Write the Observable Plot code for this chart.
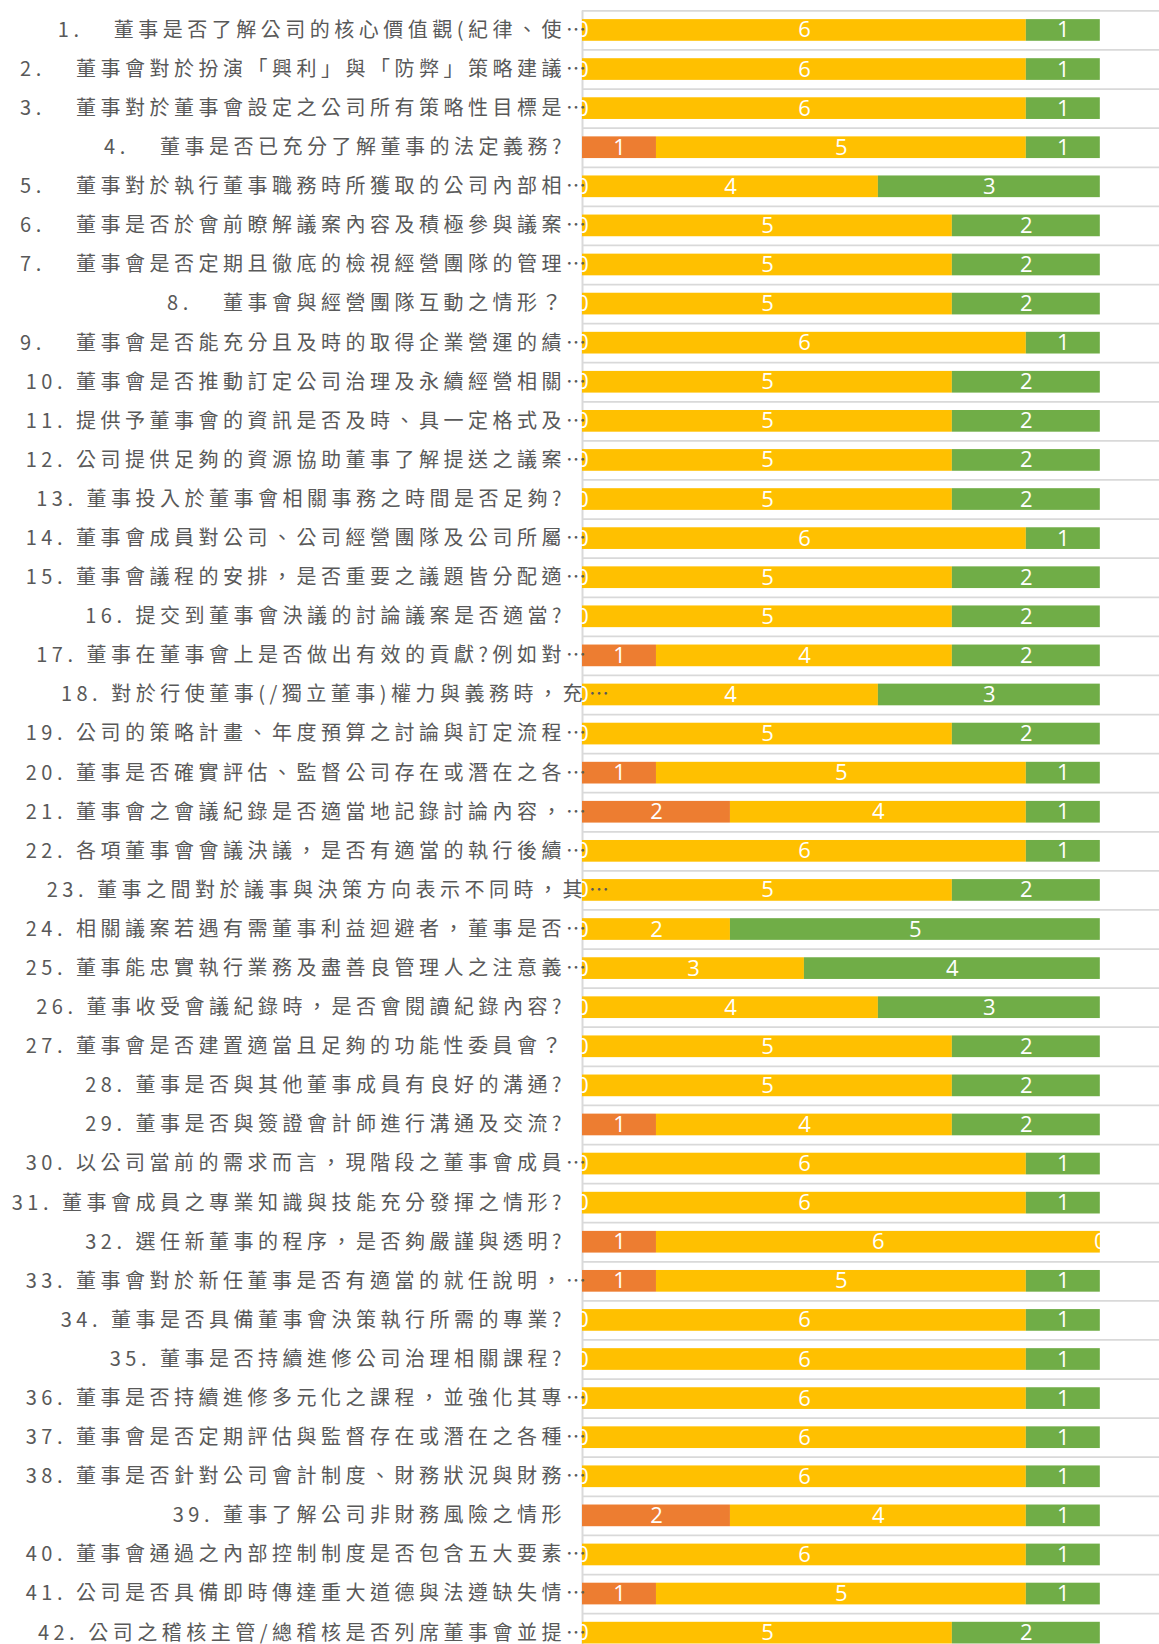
<!DOCTYPE html>
<html>
<head>
<meta charset="utf-8">
<script src="https://cdn.jsdelivr.net/npm/d3@7"></script>
<script src="https://cdn.jsdelivr.net/npm/@observablehq/plot@0.6"></script>
<style>
  html, body { margin: 0; padding: 0; background: #fff; overflow: hidden; }
  g[fill="#595959"] { letter-spacing: 4.5px; }
</style>
</head>
<body>
<div id="chart"></div>
<script>
// Row labels (as displayed, truncated with …)
const labels = [
  "1.\u3000\u200A董事是否了解公司的核心價值觀(紀律、使…",
  "2.\u3000\u200A董事會對於扮演「興利」與「防弊」策略建議…",
  "3.\u3000\u200A董事對於董事會設定之公司所有策略性目標是…",
  "4.\u3000\u200A董事是否已充分了解董事的法定義務?",
  "5.\u3000\u200A董事對於執行董事職務時所獲取的公司內部相…",
  "6.\u3000\u200A董事是否於會前瞭解議案內容及積極參與議案…",
  "7.\u3000\u200A董事會是否定期且徹底的檢視經營團隊的管理…",
  "8.\u3000\u200A董事會與經營團隊互動之情形？",
  "9.\u3000\u200A董事會是否能充分且及時的取得企業營運的績…",
  "10. 董事會是否推動訂定公司治理及永續經營相關…",
  "11. 提供予董事會的資訊是否及時、具一定格式及…",
  "12. 公司提供足夠的資源協助董事了解提送之議案…",
  "13. 董事投入於董事會相關事務之時間是否足夠?",
  "14. 董事會成員對公司、公司經營團隊及公司所屬…",
  "15. 董事會議程的安排，是否重要之議題皆分配適…",
  "16. 提交到董事會決議的討論議案是否適當?",
  "17. 董事在董事會上是否做出有效的貢獻?例如對…",
  "18. 對於行使董事(/獨立董事)權力與義務時，充…",
  "19. 公司的策略計畫、年度預算之討論與訂定流程…",
  "20. 董事是否確實評估、監督公司存在或潛在之各…",
  "21. 董事會之會議紀錄是否適當地記錄討論內容，…",
  "22. 各項董事會會議決議，是否有適當的執行後續…",
  "23. 董事之間對於議事與決策方向表示不同時，其…",
  "24. 相關議案若遇有需董事利益迴避者，董事是否…",
  "25. 董事能忠實執行業務及盡善良管理人之注意義…",
  "26. 董事收受會議紀錄時，是否會閱讀紀錄內容?",
  "27. 董事會是否建置適當且足夠的功能性委員會？",
  "28. 董事是否與其他董事成員有良好的溝通?",
  "29. 董事是否與簽證會計師進行溝通及交流?",
  "30. 以公司當前的需求而言，現階段之董事會成員…",
  "31. 董事會成員之專業知識與技能充分發揮之情形?",
  "32. 選任新董事的程序，是否夠嚴謹與透明?",
  "33. 董事會對於新任董事是否有適當的就任說明，…",
  "34. 董事是否具備董事會決策執行所需的專業?",
  "35. 董事是否持續進修公司治理相關課程?",
  "36. 董事是否持續進修多元化之課程，並強化其專…",
  "37. 董事會是否定期評估與監督存在或潛在之各種…",
  "38. 董事是否針對公司會計制度、財務狀況與財務…",
  "39. 董事了解公司非財務風險之情形",
  "40. 董事會通過之內部控制制度是否包含五大要素…",
  "41. 公司是否具備即時傳達重大道德與法遵缺失情…",
  "42. 公司之稽核主管/總稽核是否列席董事會並提…"
];

const seriesNames = ["系列1", "系列2", "系列3"];
const seriesColors = ["#ED7D31", "#FFC000", "#70AD47"];

const series1 = [0,0,0,1,0,0,0,0,0,0,0,0,0,0,0,0,1,0,0,1,2,0,0,0,0,0,0,0,1,0,0,1,1,0,0,0,0,0,2,0,1,0];
const series2 = [6,6,6,5,4,5,5,5,6,5,5,5,5,6,5,5,4,4,5,5,4,6,5,2,3,4,5,5,4,6,6,6,5,6,6,6,6,6,4,6,5,5];
const series3 = [1,1,1,1,3,2,2,2,1,2,2,2,2,1,2,2,2,3,2,1,1,1,2,5,4,3,2,2,2,1,1,0,1,1,1,1,1,1,1,1,1,2];

// rows whose truncated label overhangs into the plot
const overhangRows = new Set([18, 23]);

const allSeries = [series1, series2, series3];
const table = labels.flatMap((label, i) =>
  seriesNames.map((s, k) => ({label, series: s, value: allSeries[k][i]}))
);

const rows = labels.map((label, i) => {
  const truncated = label.endsWith("…");
  return {
    label,
    body: truncated ? label.slice(0, -1) : label,
    truncated,
    overhang: overhangRows.has(i + 1)
  };
});

const rowStep = 39.09;
const padTop = 10.4;
const H = 1654;
const padBottom = H - padTop - rowStep * labels.length;
const labelFont = "'Noto Sans CJK TC', 'Noto Sans CJK SC', sans-serif";
const baseDx = -16.5;
const shift = 21;

const labelStyle = {y: "label", frameAnchor: "left", fill: "#595959", fontSize: 20, fontFamily: labelFont};

const chart = Plot.plot({
  width: 1159,
  height: H,
  marginLeft: 582,
  marginRight: 0,
  marginTop: padTop,
  marginBottom: padBottom,
  x: {domain: [0, 7.8], axis: null},
  y: {domain: labels, axis: null, padding: 0, round: false},
  color: {domain: seriesNames, range: seriesColors},
  style: {background: "#fff", overflow: "visible"},
  marks: [
    Plot.ruleY(labels, {y: d => d, dy: -rowStep / 2, stroke: "#D9D9D9", strokeWidth: 1.75}),
    Plot.ruleX([0], {stroke: "#D9D9D9", strokeWidth: 2}),
    Plot.barX(table, {x: "value", y: "label", fill: "series", insetTop: 8.7, insetBottom: 8.7}),
    Plot.text(table, Plot.stackX({
      x: "value", y: "label", z: "series",
      text: d => String(d.value),
      fill: "white",
      fontSize: 22,
      fontFamily: "'Liberation Sans Narrow', 'Open Sans', sans-serif"
    })),
    Plot.text(rows, {...labelStyle, filter: d => !d.overhang, text: "body", textAnchor: "end", dx: baseDx}),
    Plot.text(rows, {...labelStyle, filter: d => d.overhang, text: "body", textAnchor: "end", dx: baseDx + shift}),
    Plot.text(rows, {...labelStyle, filter: d => d.truncated && !d.overhang, text: () => "…", textAnchor: "start", dx: baseDx}),
    Plot.text(rows, {...labelStyle, filter: d => d.truncated && d.overhang, text: () => "…", textAnchor: "start", dx: baseDx + shift + 2})
  ]
});
document.getElementById("chart").appendChild(chart);
</script>
</body>
</html>
